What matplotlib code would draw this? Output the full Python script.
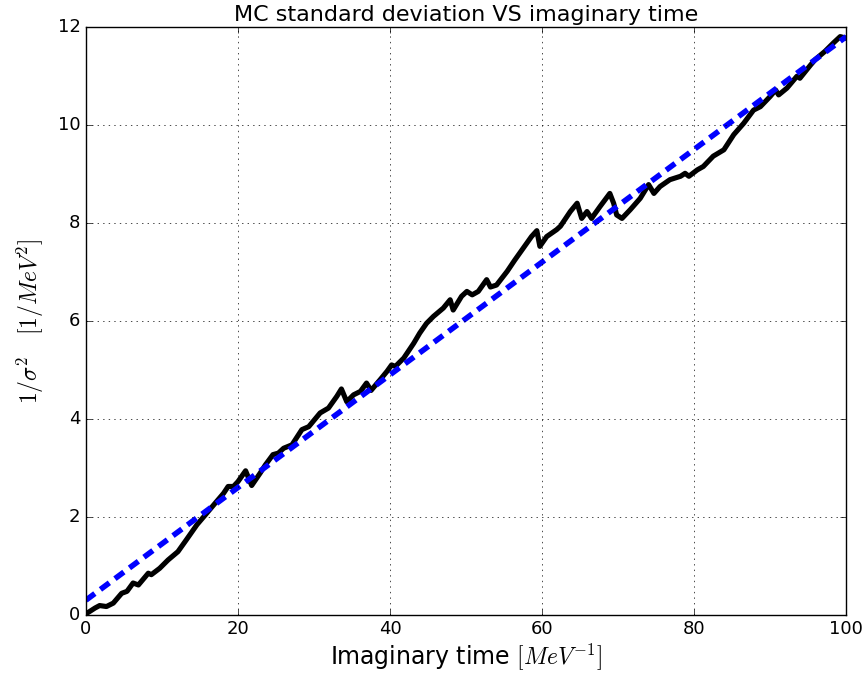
import numpy as np
import matplotlib
matplotlib.use('Agg')
import matplotlib.pyplot as plt

plt.style.use('classic')

# MC estimate of 1/sigma^2
tau = [0.0, 0.1, 1.2, 1.8, 2.7, 3.6, 4.7, 5.4, 6.2, 6.9, 8.2, 8.6, 9.7, 10.8,
       12.1, 13.2, 14.6, 15.7, 17.0, 18.1, 18.7, 19.4, 20.0, 21.0, 21.8, 22.9,
       23.6, 24.6, 25.3, 26.0, 27.1, 28.4, 29.3, 30.8, 31.9, 33.0, 33.6, 34.3,
       35.2, 36.1, 36.9, 37.5, 38.7, 39.6, 40.2, 40.7, 41.8, 43.1, 43.9, 44.8,
       45.7, 47.0, 47.9, 48.3, 49.4, 50.1, 50.8, 51.6, 52.7, 53.2, 54.0, 55.4,
       56.4, 57.5, 58.6, 59.3, 59.7, 60.6, 61.9, 62.4, 63.7, 64.6, 65.2, 65.9,
       66.5, 67.6, 68.9, 69.4, 69.8, 70.5, 71.6, 72.9, 74.0, 74.7, 75.5, 76.8,
       78.2, 78.8, 79.3, 80.4, 81.2, 82.5, 83.9, 85.2, 86.5, 87.8, 88.7, 90.0,
       90.7, 91.1, 92.2, 93.5, 93.9, 95.3, 95.9, 97.2, 98.3, 99.2, 99.9]
inv_var = [0.0, 0.03, 0.14, 0.19, 0.17, 0.24, 0.44, 0.48, 0.65, 0.61, 0.85,
           0.82, 0.95, 1.12, 1.29, 1.53, 1.84, 2.04, 2.28, 2.48, 2.62, 2.62,
           2.72, 2.94, 2.64, 2.89, 3.06, 3.27, 3.3, 3.4, 3.47, 3.78, 3.84, 4.12,
           4.22, 4.46, 4.61, 4.35, 4.49, 4.56, 4.73, 4.58, 4.8, 4.97, 5.1, 5.07,
           5.24, 5.54, 5.75, 5.95, 6.09, 6.26, 6.43, 6.22, 6.5, 6.6, 6.53, 6.6,
           6.84, 6.69, 6.73, 7.01, 7.24, 7.48, 7.72, 7.84, 7.52, 7.72, 7.86, 7.93,
           8.23, 8.4, 8.09, 8.23, 8.09, 8.33, 8.6, 8.4, 8.16, 8.09, 8.27, 8.5,
           8.78, 8.6, 8.74, 8.88, 8.95, 9.01, 8.95, 9.08, 9.15, 9.36, 9.49, 9.8,
           10.03, 10.3, 10.37, 10.58, 10.71, 10.61, 10.75, 10.99, 10.95, 11.22,
           11.33, 11.5, 11.67, 11.8, 11.77]

# linear fit (endpoints)
fit_x = [0, 100]
fit_y = [0.3, 11.8]

fig = plt.figure(figsize=(8.68, 6.87), dpi=100, facecolor='white')
ax = fig.add_axes([0.099, 0.105, 0.876, 0.856])

ax.plot(tau, inv_var, color='k', lw=3.7, solid_joinstyle='round')
ax.plot(fit_x, fit_y, color='b', lw=4, linestyle='--', dashes=(8, 5))

ax.set_xlim(0, 100)
ax.set_ylim(0, 12)
ax.set_xticks(np.arange(0, 101, 20))
ax.set_yticks(np.arange(0, 13, 2))
ax.grid(True, color='k', linestyle=':')
ax.tick_params(labelsize=13)

ax.set_title('MC standard deviation VS imaginary time', fontsize=16, pad=4)
ax.set_xlabel(r'Imaginary time $[MeV^{-1}]$', fontsize=17, labelpad=2)
ax.set_ylabel(r'$1/\sigma^2 \quad [1/MeV^2]$', fontsize=17, labelpad=8)

fig.savefig('out.png', dpi=100, facecolor='white')
